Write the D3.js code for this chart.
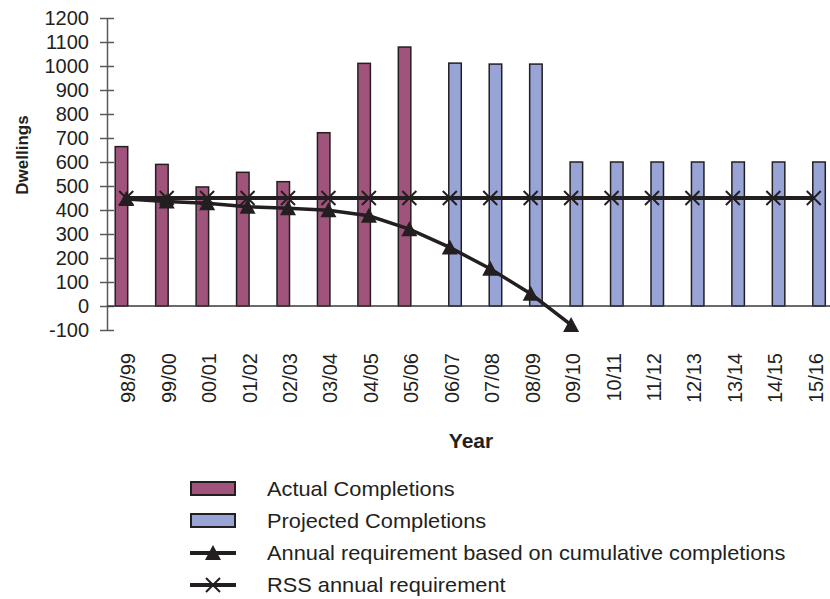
<!DOCTYPE html>
<html>
<head>
<meta charset="utf-8">
<script src="https://cdn.jsdelivr.net/npm/d3@7"></script>
<style>
  body { margin: 0; background: #fff; }
  text { font-family: "Liberation Sans", Arial, sans-serif; fill: #231f20; }
</style>
</head>
<body>
<div id="chart"></div>
<script>
// dwellings completions vs requirement
var years = ["98/99","99/00","00/01","01/02","02/03","03/04","04/05","05/06","06/07",
             "07/08","08/09","09/10","10/11","11/12","12/13","13/14","14/15","15/16"];
var actual = [664, 590, 496, 557, 518, 722, 1011, 1079, null, null, null, null, null, null, null, null, null, null];
var projected = [null, null, null, null, null, null, null, null, 1012, 1008, 1008, 600, 600, 600, 600, 600, 600, 600];
var annualReq = [446, 435, 428, 414, 407, 399, 376, 320, 244, 155, 51, -79];
var rss = [450, 450, 450, 450, 450, 450, 450, 450, 450, 450, 450, 450, 450, 450, 450, 450, 450, 450];
var yTicks = [-100, 0, 100, 200, 300, 400, 500, 600, 700, 800, 900, 1000, 1100, 1200];

var width = 830,
    height = 599;
var ink = "#231f20";

var svg = d3.select("#chart").append("svg")
    .attr("width", width)
    .attr("height", height);

var x = d3.scaleBand()
    .domain(years)
    .range([106, 834])
    .padding(0);

var y = d3.scaleLinear()
    .domain([-100, 1200])
    .range([330, 18]);

function cx(d){ return x(d) + x.bandwidth() / 2; }

// y axis with crossing ticks
var yAxis = svg.append("g")
    .attr("transform", "translate(107,0)")
    .call(d3.axisLeft(y).tickValues(yTicks).tickFormat(function(d){ return String(d); })
        .tickSizeOuter(0).tickSizeInner(7).tickPadding(11));
yAxis.select(".domain").attr("stroke", "#5a5a5a").attr("stroke-width", 1.5);
yAxis.selectAll(".tick line").attr("x1", 7).attr("x2", -7).attr("stroke", "#5a5a5a").attr("stroke-width", 1.5);
yAxis.selectAll(".tick text").style("font-size", "20px").attr("fill", ink);

// bars
var barW = 12.5;
svg.append("g").selectAll("rect")
    .data(years.filter(function(d,i){ return actual[i] != null; }))
    .enter().append("rect")
    .attr("x", function(d){ return cx(d) - 11; })
    .attr("y", function(d){ return y(actual[years.indexOf(d)]); })
    .attr("width", barW)
    .attr("height", function(d){ return y(0) - y(actual[years.indexOf(d)]); })
    .attr("fill", "#a0537b")
    .attr("stroke", ink)
    .attr("stroke-width", 1.5);

svg.append("g").selectAll("rect")
    .data(years.filter(function(d,i){ return projected[i] != null; }))
    .enter().append("rect")
    .attr("x", function(d){ return cx(d) - 1; })
    .attr("y", function(d){ return y(projected[years.indexOf(d)]); })
    .attr("width", barW)
    .attr("height", function(d){ return y(0) - y(projected[years.indexOf(d)]); })
    .attr("fill", "#99a4d6")
    .attr("stroke", ink)
    .attr("stroke-width", 1.5);

// zero line
svg.append("line")
    .attr("x1", 107).attr("x2", 830)
    .attr("y1", y(0)).attr("y2", y(0))
    .attr("stroke", "#3a3a3a")
    .attr("stroke-width", 1.5);

// x labels
svg.append("g").selectAll("text")
    .data(years)
    .enter().append("text")
    .attr("transform", function(d){ return "translate(" + (cx(d) + 2) + ",353) rotate(-90)"; })
    .attr("text-anchor", "end")
    .attr("dy", "0.35em")
    .style("font-size", "20px")
    .text(function(d){ return d; });

// axis titles
svg.append("text")
    .attr("x", 471).attr("y", 448)
    .attr("text-anchor", "middle")
    .style("font-size", "21px")
    .style("font-weight", "bold")
    .text("Year");

svg.append("text")
    .attr("transform", "translate(28,155) rotate(-90)")
    .attr("text-anchor", "middle")
    .style("font-size", "17px")
    .style("font-weight", "bold")
    .text("Dwellings");

// annual requirement line
var line = d3.line()
    .x(function(d){ return cx(years[d.i]); })
    .y(function(d){ return y(d.v); });

var reqPts = annualReq.map(function(v,i){ return {i:i, v:v}; });
svg.append("path")
    .datum(reqPts)
    .attr("d", line)
    .attr("fill", "none")
    .attr("stroke", ink)
    .attr("stroke-width", 3.5);

function triPath(){ return "M0,-8L8,7L-8,7Z"; }
svg.append("g").selectAll("path")
    .data(reqPts)
    .enter().append("path")
    .attr("transform", function(d){ return "translate(" + cx(years[d.i]) + "," + y(d.v) + ")"; })
    .attr("d", triPath)
    .attr("fill", ink);

// RSS line
var rssPts = rss.map(function(v,i){ return {i:i, v:v}; });
svg.append("path")
    .datum(rssPts)
    .attr("d", line)
    .attr("fill", "none")
    .attr("stroke", ink)
    .attr("stroke-width", 4);

function crossPath(){ return "M-7,-7L7,7M-7,7L7,-7"; }
svg.append("g").selectAll("path")
    .data(rssPts)
    .enter().append("path")
    .attr("transform", function(d){ return "translate(" + cx(years[d.i]) + "," + y(d.v) + ")"; })
    .attr("d", crossPath)
    .attr("stroke", ink)
    .attr("stroke-width", 2)
    .attr("fill", "none");

// legend
var legendItems = ["Actual Completions", "Projected Completions",
                   "Annual requirement based on cumulative completions", "RSS annual requirement"];
var legend = svg.append("g");
legendItems.forEach(function(name, i){
    var ly = 489 + i * 32;
    if (i < 2) {
        legend.append("rect")
            .attr("x", 191).attr("y", ly - 7)
            .attr("width", 44).attr("height", 13)
            .attr("fill", i == 0 ? "#a0537b" : "#99a4d6")
            .attr("stroke", ink).attr("stroke-width", 2);
    } else {
        legend.append("line")
            .attr("x1", 190).attr("x2", 236)
            .attr("y1", ly).attr("y2", ly)
            .attr("stroke", ink).attr("stroke-width", 4);
        legend.append("path")
            .attr("transform", "translate(213," + ly + ")")
            .attr("d", i == 2 ? triPath : crossPath)
            .attr("fill", i == 2 ? ink : "none")
            .attr("stroke", i == 2 ? "none" : ink)
            .attr("stroke-width", 2);
    }
    legend.append("text")
        .attr("transform", "translate(267," + ly + ") scale(1.09,1)")
        .attr("dy", "0.35em")
        .style("font-size", "20px")
        .text(name);
});
</script>
</body>
</html>
